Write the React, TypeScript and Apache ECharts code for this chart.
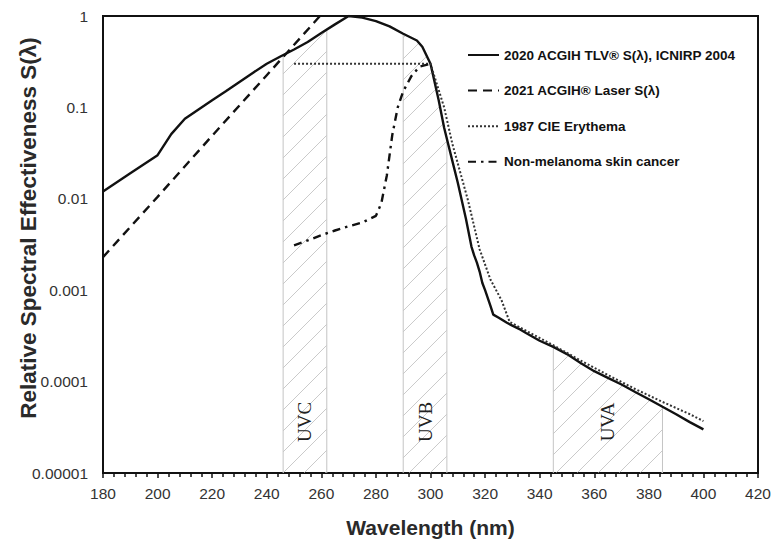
import React, { useEffect, useRef } from 'react';
import * as echarts from 'echarts';

// 2020 ACGIH TLV S(λ), ICNIRP 2004
const acgihWl = [180, 190, 200, 205, 210, 215, 220, 225, 230, 235, 240, 245, 250, 255, 260, 265, 270, 275, 280, 285, 290, 295, 297, 300, 303, 305, 308, 310, 313, 315, 316, 317, 318, 319, 320, 322, 323, 325, 328, 330, 333, 335, 340, 345, 350, 355, 360, 365, 370, 375, 380, 385, 390, 395, 400];
const acgihS = [0.012, 0.019, 0.03, 0.051, 0.075, 0.095, 0.12, 0.15, 0.19, 0.24, 0.3, 0.36, 0.43, 0.52, 0.65, 0.81, 1.0, 0.96, 0.88, 0.77, 0.64, 0.54, 0.46, 0.3, 0.12, 0.06, 0.026, 0.015, 0.006, 0.003, 0.0024, 0.002, 0.0016, 0.0012, 0.001, 0.00067, 0.00054, 0.0005, 0.00044, 0.00041, 0.00037, 0.00034, 0.00028, 0.00024, 0.0002, 0.00016, 0.00013, 0.00011, 0.000093, 0.000077, 0.000064, 0.000053, 0.000044, 0.000036, 0.00003];

// 2021 ACGIH Laser S(λ)
const laserWl = [180, 200, 220, 240, 259.5];
const laserS = [0.0023, 0.0105, 0.049, 0.225, 1];

// 1987 CIE Erythema
const cieWl = [250, 300, 305, 308, 313.7, 318, 322, 326, 329, 335, 345, 355, 365, 375, 385, 395, 400];
const cieS = [0.3, 0.3, 0.1, 0.04, 0.0097, 0.0028, 0.0013, 0.00078, 0.00045, 0.00036, 0.00025, 0.00017, 0.000118, 0.000083, 0.00006, 0.000044, 0.000037];

// Non-melanoma skin cancer
const nmscWl = [250, 255, 260, 265, 270, 275, 280, 282, 284, 286, 288, 290, 293, 296, 300];
const nmscS = [0.0031, 0.0035, 0.004, 0.0045, 0.005, 0.0055, 0.0065, 0.009, 0.018, 0.05, 0.1, 0.15, 0.22, 0.28, 0.3];

// UV bands
const bandStart = [246, 290, 345];
const bandEnd = [262, 306, 385];
const bandLabel = ['UVC', 'UVB', 'UVA'];

const yTickLabels = ['0.00001', '0.0001', '0.001', '0.01', '0.1', '1'];
const seriesNames = [
  '2020 ACGIH TLV® S(λ), ICNIRP 2004',
  '2021 ACGIH® Laser S(λ)',
  '1987 CIE Erythema',
  'Non-melanoma skin cancer',
];
const xTitle = 'Wavelength (nm)';
const yTitle = 'Relative Spectral Effectiveness S(λ)';

const Y_MIN = 0.00001;
const Y_MAX = 1;

const pairs = (xs: number[], ys: number[]) => xs.map((x, i) => [x, ys[i]]);

function interpAcgih(wl: number): number {
  if (wl <= acgihWl[0]) return acgihS[0];
  for (let i = 1; i < acgihWl.length; i++) {
    if (wl <= acgihWl[i]) {
      const t = (wl - acgihWl[i - 1]) / (acgihWl[i] - acgihWl[i - 1]);
      const a = Math.log10(acgihS[i - 1]);
      const b = Math.log10(acgihS[i]);
      return Math.pow(10, a + t * (b - a));
    }
  }
  return acgihS[acgihS.length - 1];
}

const FONT = '"Liberation Sans", Arial, sans-serif';

export default function App() {
  const ref = useRef<HTMLDivElement>(null);
  useEffect(() => {
    if (!ref.current) return;
    const chart = echarts.init(ref.current, undefined, { renderer: 'svg' });
    const lineColor = '#111';
    const option: any = {
      animation: false,
      backgroundColor: '#fff',
      grid: {
        left: 103,
        top: 16,
        right: 17,
        bottom: 75,
        containLabel: false,
        outerBoundsMode: 'none',
        show: true,
        borderColor: '#111',
        borderWidth: 2,
        backgroundColor: 'transparent',
      },
      graphic: [
        {
          type: 'text',
          x: 28,
          y: 228,
          rotation: Math.PI / 2,
          style: {
            text: yTitle,
            font: `bold 22.5px ${FONT}`,
            fill: '#2a2a2a',
            align: 'center',
            verticalAlign: 'middle',
          },
        },
      ],
      legend: {
        orient: 'vertical',
        left: 462,
        top: 43,
        itemWidth: 31,
        itemHeight: 14,
        itemGap: 21.6,
        data: seriesNames,
        itemStyle: { opacity: 0 },
        textStyle: {
          fontFamily: FONT,
          fontSize: 13.5,
          fontWeight: 'bold',
          color: '#111',
          lineHeight: 14,
        },
      },
      xAxis: {
        type: 'value',
        min: 180,
        max: 420,
        interval: 20,
        name: xTitle,
        nameLocation: 'middle',
        nameGap: 44,
        nameMoveOverlap: false,
        nameTextStyle: { fontFamily: FONT, fontSize: 21, fontWeight: 'bold', color: '#2a2a2a' },
        axisLine: { show: true, lineStyle: { color: '#111', width: 2 } },
        axisTick: { show: true, length: 5, lineStyle: { color: '#111', width: 1.5 } },
        minorTick: { show: true, splitNumber: 5, length: 4, lineStyle: { color: '#111', width: 1.5 } },
        splitLine: { show: false },
        axisLabel: { fontFamily: FONT, fontSize: 15.5, color: '#333', margin: 12 },
      },
      yAxis: {
        type: 'log',
        logBase: 10,
        min: Y_MIN,
        max: Y_MAX,
        axisLine: { show: true, lineStyle: { color: '#111', width: 2 } },
        axisTick: { show: false },
        splitLine: { show: false },
        axisLabel: {
          fontFamily: FONT,
          fontSize: 15.5,
          color: '#333',
          margin: 15,
          formatter: (v: number) => {
            const idx = Math.round(Math.log10(v)) + 5;
            return yTickLabels[idx] ?? '';
          },
        },
      },
      series: [
        {
          type: 'custom',
          name: 'bands',
          silent: true,
          z: 1,
          clip: true,
          encode: { x: [0, 1] },
          data: bandStart.map((s, i) => [s, bandEnd[i], i]),
          renderItem: (params: any, api: any) => {
            const i = params.dataIndex;
            const x1 = api.value(0);
            const x2 = api.value(1);
            const pb1 = api.coord([x1, Y_MIN]);
            const pb2 = api.coord([x2, Y_MIN]);
            const left = pb1[0];
            const right = pb2[0];
            const bottom = pb1[1];
            const pxPerNm = (right - left) / (x2 - x1);
            const topAt = (px: number) => {
              const wl = x1 + (px - left) / pxPerNm;
              return api.coord([wl, interpAcgih(wl)])[1];
            };
            const step = 0.5;
            const xs: number[] = [];
            const tops: number[] = [];
            for (let px = left; px <= right + 0.001; px += step) {
              xs.push(px);
              tops.push(topAt(px));
            }
            const minTop = Math.min(...tops);
            const children: any[] = [];
            const spacing = 21;
            const cStart = Math.floor((left + minTop) / spacing) * spacing;
            const cEnd = right + bottom;
            for (let c = cStart; c <= cEnd; c += spacing) {
              let runStart = -1;
              for (let k = 0; k <= xs.length; k++) {
                let inside = false;
                if (k < xs.length) {
                  const y = c - xs[k];
                  inside = y >= tops[k] && y <= bottom;
                }
                if (inside && runStart < 0) runStart = k;
                if (!inside && runStart >= 0) {
                  const a = xs[runStart];
                  const b = xs[k - 1];
                  if (b - a > 0.5) {
                    children.push({
                      type: 'line',
                      shape: { x1: a, y1: c - a, x2: b, y2: c - b },
                      style: { stroke: '#bdbdbd', lineWidth: 0.8 },
                    });
                  }
                  runStart = -1;
                }
              }
            }
            children.push({
              type: 'line',
              shape: { x1: left, y1: bottom, x2: left, y2: tops[0] },
              style: { stroke: '#c4c4c4', lineWidth: 1 },
            });
            children.push({
              type: 'line',
              shape: { x1: right, y1: bottom, x2: right, y2: tops[tops.length - 1] },
              style: { stroke: '#c4c4c4', lineWidth: 1 },
            });
            children.push({
              type: 'text',
              x: (left + right) / 2,
              y: bottom - 51,
              rotation: Math.PI / 2,
              style: {
                text: bandLabel[i],
                font: '19px "Liberation Serif", "Times New Roman", serif',
                fill: '#222',
                align: 'center',
                verticalAlign: 'middle',
              },
            });
            return { type: 'group', children };
          },
        },
        {
          name: seriesNames[0],
          type: 'line',
          data: pairs(acgihWl, acgihS),
          symbol: 'none',
          z: 5,
          lineStyle: { color: lineColor, width: 2.4, type: 'solid' },
          itemStyle: { color: lineColor },
        },
        {
          name: seriesNames[1],
          type: 'line',
          data: pairs(laserWl, laserS),
          symbol: 'none',
          z: 5,
          lineStyle: { color: lineColor, width: 2.4, type: [9, 6] },
          itemStyle: { color: lineColor },
        },
        {
          name: seriesNames[2],
          type: 'line',
          data: pairs(cieWl, cieS),
          symbol: 'none',
          z: 5,
          lineStyle: { color: '#333', width: 2, type: [2, 2] },
          itemStyle: { color: '#333' },
        },
        {
          name: seriesNames[3],
          type: 'line',
          data: pairs(nmscWl, nmscS),
          symbol: 'none',
          z: 5,
          lineStyle: { color: lineColor, width: 2.4, type: [8, 5, 2.5, 5] },
          itemStyle: { color: lineColor },
        },
      ],
    };
    chart.setOption(option);
    return () => chart.dispose();
  }, []);
  return (
    <div
      ref={ref}
      style={{ position: 'fixed', left: 0, top: 0, width: 775, height: 548, background: '#fff' }}
    />
  );
}
